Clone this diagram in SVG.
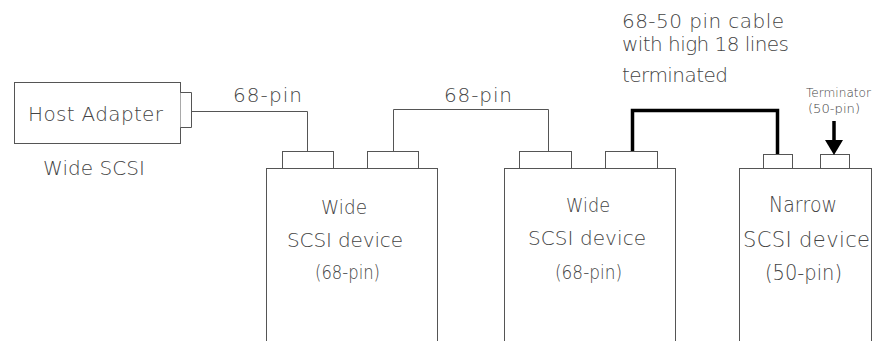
<svg xmlns="http://www.w3.org/2000/svg" width="877" height="341" viewBox="0 0 877 341">
<style>
.box{fill:#fff;stroke:#555;stroke-width:1}
.cable{fill:none;stroke:#555;stroke-width:1}
.thick{fill:none;stroke:#000;stroke-width:3.5}
text{font-family:"DejaVu Sans","Liberation Sans",sans-serif;font-weight:200;fill:#444;font-size:20px}
.sm{font-size:12.5px}
.lg{font-size:21px}
</style>
<rect width="877" height="341" fill="#fff"/>
<g id="connectors">
<path class="cable" d="M191.5,111.5 H307.5 V151.5"/>
<path class="cable" d="M393.5,151.5 V109.5 H548.5 V151.5"/>
<path class="thick" d="M632.5,152 V110.5 H777.5 V155"/>
</g>
<g id="host">
<rect class="box" x="14.5" y="82.5" width="166" height="61"/>
<path class="box" d="M180.5,92.5 H191.5 V127.5 H180.5"/>
<text x="28" y="121" textLength="135" lengthAdjust="spacing">Host Adapter</text>
<text x="43" y="175" textLength="102" lengthAdjust="spacing">Wide SCSI</text>
</g>
<g id="label-68pin-1"><text x="233" y="102" textLength="69" lengthAdjust="spacing">68-pin</text></g>
<g id="label-68pin-2"><text x="444" y="102" textLength="68" lengthAdjust="spacing">68-pin</text></g>
<g id="label-cable">
<text x="622" y="28" textLength="162" lengthAdjust="spacing">68-50 pin cable</text>
<text x="622" y="51" textLength="167" lengthAdjust="spacing">with high 18 lines</text>
<text x="622" y="82" textLength="106" lengthAdjust="spacing">terminated</text>
</g>
<g id="dev1">
<rect class="box" x="266.5" y="168.5" width="171" height="200"/>
<rect class="box" x="282.5" y="151.5" width="51" height="17"/>
<rect class="box" x="367.5" y="151.5" width="51" height="17"/>
<text x="321" y="214" textLength="46" lengthAdjust="spacingAndGlyphs">Wide</text>
<text x="287" y="247" textLength="116" lengthAdjust="spacing">SCSI device</text>
<text x="315" y="279" textLength="65" lengthAdjust="spacingAndGlyphs">(68-pin)</text>
</g>
<g id="dev2">
<rect class="box" x="504.5" y="168.5" width="171" height="200"/>
<rect class="box" x="519.5" y="151.5" width="52" height="17"/>
<rect class="box" x="605.5" y="151.5" width="52" height="17"/>
<text x="566" y="212" textLength="44" lengthAdjust="spacingAndGlyphs">Wide</text>
<text x="528" y="245" textLength="118" lengthAdjust="spacing">SCSI device</text>
<text x="555" y="279" textLength="67" lengthAdjust="spacingAndGlyphs">(68-pin)</text>
</g>
<g id="dev3">
<rect class="box" x="739.5" y="168.5" width="132" height="200"/>
<rect class="box" x="763.5" y="154.5" width="29" height="14"/>
<rect class="box" x="820.5" y="154.5" width="29" height="14"/>
<text class="lg" x="769" y="212" textLength="68" lengthAdjust="spacingAndGlyphs">Narrow</text>
<text class="lg" x="743" y="247" textLength="127" lengthAdjust="spacing">SCSI device</text>
<text class="lg" x="765" y="280" textLength="77" lengthAdjust="spacingAndGlyphs">(50-pin)</text>
</g>
<g id="terminator">
<line x1="834" y1="121" x2="834" y2="141" stroke="#000" stroke-width="3.5"/>
<polygon points="825,140 843,140 834,155" fill="#000"/>
<text class="sm" x="806" y="97" textLength="65" lengthAdjust="spacingAndGlyphs">Terminator</text>
<text class="sm" x="808" y="113" textLength="52" lengthAdjust="spacingAndGlyphs">(50-pin)</text>
</g>
</svg>
